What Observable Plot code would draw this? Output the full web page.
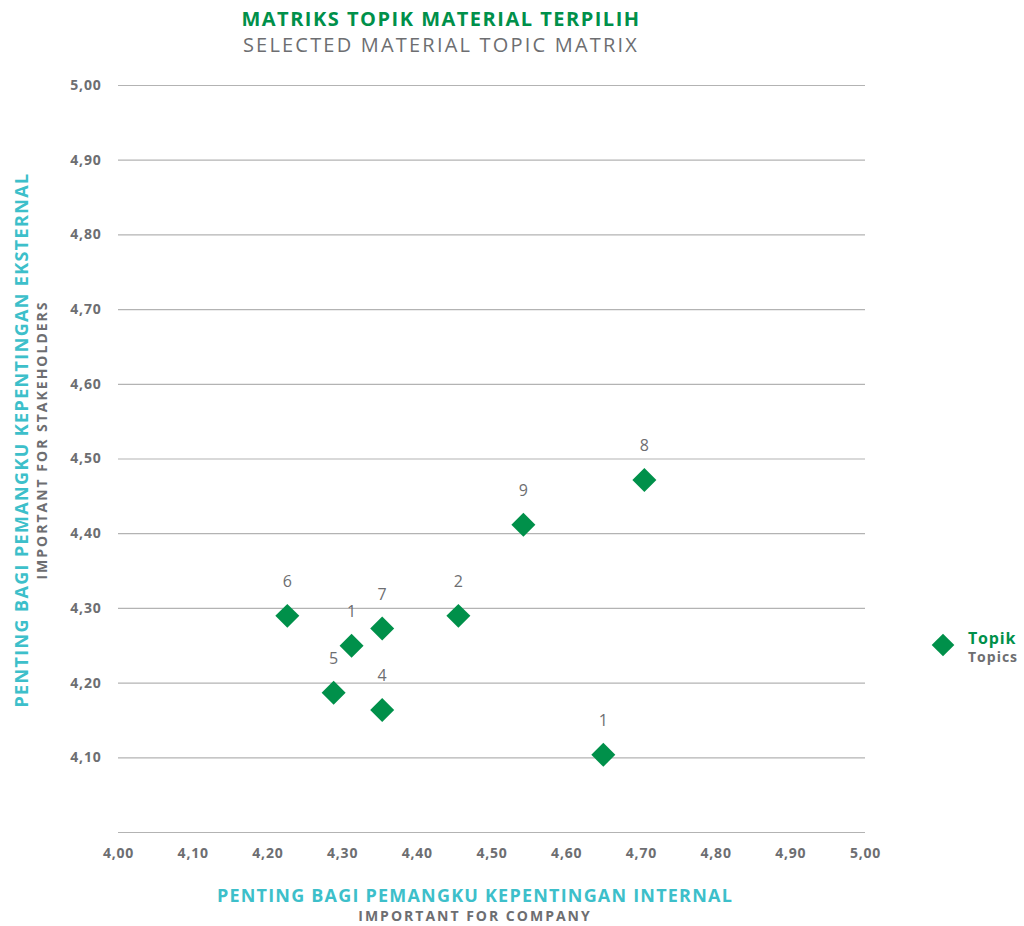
<!DOCTYPE html>
<html>
<head>
<meta charset="utf-8">
<script src="https://cdn.jsdelivr.net/npm/d3@7"></script>
<script src="https://cdn.jsdelivr.net/npm/@observablehq/plot@0.6"></script>
<style>
  html, body { margin: 0; padding: 0; background: #fff; }
  body { width: 1024px; height: 926px; position: relative; overflow: hidden; font-family: "Open Sans", sans-serif; }
  .abs { position: absolute; white-space: nowrap; }
  #title { left: 141px; width: 600px; top: 6px; text-align: center; }
  #title .t1 { color: #00904a; font-weight: 700; font-size: 20px; line-height: 26px; letter-spacing: 1.5px; }
  #title .t2 { color: #6d6e71; font-weight: 400; font-size: 20px; line-height: 26px; letter-spacing: 2.2px; }
  #xtitle { left: 175px; width: 600px; top: 884px; text-align: center; }
  #xtitle .a { color: #3dbfca; font-weight: 700; font-size: 18px; line-height: 22px; letter-spacing: 1.2px; }
  #xtitle .b { color: #6d6e71; font-weight: 700; font-size: 14px; line-height: 19px; letter-spacing: 2px; }
  #ytitle { left: 30px; top: 440px; transform: translate(-50%, -50%) rotate(-90deg); text-align: center; width: 600px; }
  #ytitle .a { color: #3dbfca; font-weight: 700; font-size: 18px; line-height: 22px; letter-spacing: 1.35px; }
  #ytitle .b { color: #6d6e71; font-weight: 700; font-size: 14px; line-height: 19px; letter-spacing: 2px; }
  #legend { left: 932px; top: 628px; width: 92px; height: 40px; }
  #legend .d { position: absolute; left: 3px; top: 9px; width: 16px; height: 16px; background: #00904a; transform: rotate(45deg); }
  #legend .l1 { position: absolute; left: 36px; top: 2px; color: #00904a; font-weight: 700; font-size: 16px; line-height: 17px; letter-spacing: 0.8px; }
  #legend .l2 { position: absolute; left: 36px; top: 21px; color: #6d6e71; font-weight: 700; font-size: 14px; line-height: 16px; letter-spacing: 1px; }
  #chart { position: absolute; left: 0; top: 60px; }
  #chart svg g[aria-label="x-axis tick label"] text, #chart svg g[aria-label="y-axis tick label"] text { letter-spacing: 0.8px; }
</style>
</head>
<body>
<div id="title" class="abs"><div class="t1">MATRIKS TOPIK MATERIAL TERPILIH</div><div class="t2">SELECTED MATERIAL TOPIC MATRIX</div></div>
<div id="ytitle" class="abs"><div class="a">PENTING BAGI PEMANGKU KEPENTINGAN EKSTERNAL</div><div class="b">IMPORTANT FOR STAKEHOLDERS</div></div>
<div id="xtitle" class="abs"><div class="a">PENTING BAGI PEMANGKU KEPENTINGAN INTERNAL</div><div class="b">IMPORTANT FOR COMPANY</div></div>
<div id="legend" class="abs"><div class="d"></div><div class="l1">Topik</div><div class="l2">Topics</div></div>
<div id="chart"></div>
<script>
// Data
const topicLabels = ["6", "1", "7", "2", "5", "4", "9", "8", "1"];
const internalScores = [4.226, 4.312, 4.353, 4.455, 4.288, 4.353, 4.542, 4.704, 4.649];
const externalScores = [4.290, 4.250, 4.273, 4.290, 4.187, 4.164, 4.412, 4.472, 4.104];
const xTicks = [4.0, 4.1, 4.2, 4.3, 4.4, 4.5, 4.6, 4.7, 4.8, 4.9, 5.0];
const yTicks = [4.1, 4.2, 4.3, 4.4, 4.5, 4.6, 4.7, 4.8, 4.9, 5.0];
const gridValues = [4.0, 4.1, 4.2, 4.3, 4.4, 4.5, 4.6, 4.7, 4.8, 4.9, 5.0];

const data = topicLabels.map((label, i) => ({label, x: internalScores[i], y: externalScores[i]}));
const fmt = v => d3.format(".2f")(v).replace(".", ",");

const chart = Plot.plot({
  width: 1024,
  height: 810,
  marginLeft: 118,
  marginRight: 159,
  marginTop: 25,
  marginBottom: 38,
  style: {fontFamily: "'Open Sans', sans-serif", background: "transparent"},
  x: {domain: [4, 5], label: null},
  y: {domain: [4, 5], label: null},
  marks: [
    Plot.ruleY(gridValues, {stroke: "#b3b3b3", strokeWidth: 1.2}),
    Plot.axisX({ticks: xTicks, tickFormat: fmt, tickSize: 0, tickPadding: 16, fontSize: 14, fontWeight: 700, fill: "#6d6e71", label: null}),
    Plot.axisY({ticks: yTicks, tickFormat: fmt, tickSize: 0, tickPadding: 17, fontSize: 14, fontWeight: 700, fill: "#6d6e71", label: null}),
    Plot.dot(data, {x: "x", y: "y", symbol: "diamond2", r: 10.8, fill: "#00904a", stroke: "none"}),
    Plot.text(data, {x: "x", y: "y", text: "label", dy: -34, fontSize: 16, fill: "#6d6e71"})
  ]
});
document.getElementById("chart").appendChild(chart);
</script>
</body>
</html>
